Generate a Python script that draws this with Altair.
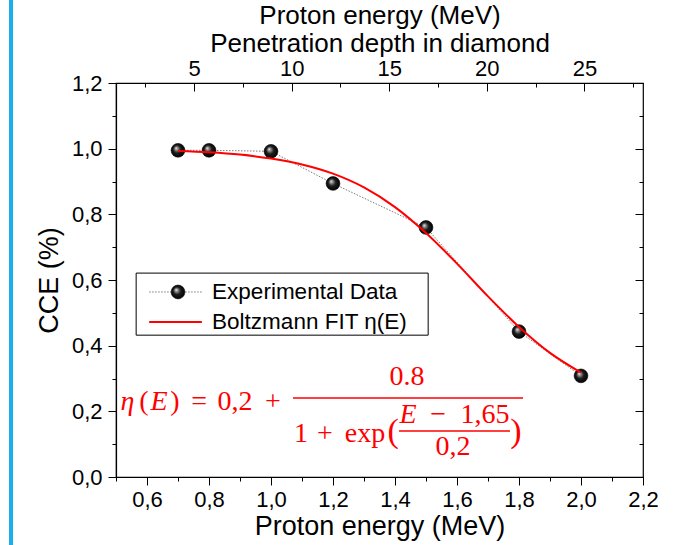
import altair as alt
import pandas as pd

# Measured charge collection efficiency vs. proton energy
energy = [0.7, 0.8, 1.0, 1.2, 1.5, 1.8, 2.0]
cce = [0.995, 0.995, 0.992, 0.894, 0.760, 0.443, 0.308]

# Boltzmann fit eta(E) sampled along the energy range
fit_energy = [0.7, 0.8, 0.9, 1.0, 1.1, 1.2, 1.3, 1.4, 1.5, 1.6, 1.7, 1.8, 1.9, 2.0]
fit_cce = [0.993, 0.989, 0.982, 0.970, 0.952, 0.924, 0.882, 0.822, 0.743,
           0.650, 0.550, 0.457, 0.378, 0.318]

# Tick values
x_major = [0.6, 0.8, 1.0, 1.2, 1.4, 1.6, 1.8, 2.0, 2.2]
x_minor = [0.5, 0.7, 0.9, 1.1, 1.3, 1.5, 1.7, 1.9, 2.1]
y_major = [0.0, 0.2, 0.4, 0.6, 0.8, 1.0, 1.2]
y_minor = [0.1, 0.3, 0.5, 0.7, 0.9, 1.1]
depth_major = [5, 10, 15, 20, 25]
depth_minor = [2.5, 7.5, 12.5, 17.5, 22.5, 27.5]

legend_labels = ["Experimental Data", "Boltzmann FIT η(E)"]

FONT = "Liberation Sans"
MATH = "Liberation Serif"
RED = "#ff0000"
COMMA = "replace(format(datum.value, '.1f'), '.', ',')"


def xs():
    return alt.Scale(domain=[0.5, 2.2], nice=False, zero=False)


def ys():
    return alt.Scale(domain=[0.0, 1.2], nice=False, zero=False)


def ds():
    return alt.Scale(domain=[1, 28], nice=False, zero=False)


def tick_axis(orient, values, size, offset=0):
    return alt.Axis(orient=orient, values=values, tickSize=size, offset=offset,
                    labels=False, domain=False, grid=False, title=None,
                    tickColor="black", tickWidth=1)


bottom_major = alt.Axis(orient="bottom", values=x_major, tickSize=8, labelExpr=COMMA,
                        labelPadding=4, domain=True, domainWidth=1.2, grid=False,
                        title="Proton energy (MeV)", titlePadding=3, labelFlush=False,
                        labelOverlap=False)
left_major = alt.Axis(orient="left", values=y_major, tickSize=8, labelExpr=COMMA,
                      labelPadding=6, domain=True, domainWidth=1.2, grid=False,
                      title="CCE (%)", titlePadding=8, labelFlush=False,
                      labelOverlap=False)
top_major = alt.Axis(orient="top", values=depth_major, tickSize=8, offset=-8,
                     format="d", labelPadding=3, domain=False, grid=False,
                     title=["Proton energy (MeV)", "Penetration depth in diamond"],
                     titleFontSize=26, titleLineHeight=28, titlePadding=1,
                     labelFlush=False, labelOverlap=False)

pts = pd.DataFrame({"E": energy, "CCE": cce})
fit = pd.DataFrame({"E": fit_energy, "CCE": fit_cce})

ball_fill = alt.RadialGradient(
    gradient="radial", x1=0.36, y1=0.34, r1=0, x2=0.5, y2=0.5, r2=0.55,
    stops=[alt.GradientStop(offset=0, color="#f4f4f4"),
           alt.GradientStop(offset=0.2, color="#8c8c8c"),
           alt.GradientStop(offset=0.5, color="#1c1c1c"),
           alt.GradientStop(offset=1, color="#000000")])

dotted = alt.Chart(pts).mark_line(color="#7a7a7a", strokeDash=[1.5, 1.5], strokeWidth=1).encode(
    x=alt.X("E:Q", scale=xs(), axis=bottom_major),
    y=alt.Y("CCE:Q", scale=ys(), axis=left_major))

balls = alt.Chart(pts).mark_circle(size=190, fill=ball_fill, stroke="black",
                                   strokeWidth=0.6, opacity=1).encode(
    x=alt.X("E:Q", scale=xs(), axis=tick_axis("bottom", x_minor, 4)),
    y=alt.Y("CCE:Q", scale=ys(), axis=tick_axis("left", y_minor, 4)))

fitline = alt.Chart(fit).mark_line(color=RED, strokeWidth=2, interpolate="monotone").encode(
    x=alt.X("E:Q", scale=xs(), axis=None),
    y=alt.Y("CCE:Q", scale=ys(), axis=tick_axis("right", y_major, 8, -8)))

right_minor = alt.Chart(pts).mark_point(opacity=0).encode(
    x=alt.X("E:Q", scale=xs(), axis=None),
    y=alt.Y("CCE:Q", scale=ys(), axis=tick_axis("right", y_minor, 4, -4)))

top_labels = alt.Chart(pd.DataFrame({"d": depth_major})).mark_point(opacity=0).encode(
    x=alt.X("d:Q", scale=ds(), axis=top_major))

top_minor = alt.Chart(pd.DataFrame({"d": depth_minor})).mark_point(opacity=0).encode(
    x=alt.X("d:Q", scale=ds(), axis=tick_axis("top", depth_minor, 4, -4)))

# Legend
legend_frame = alt.Chart(pd.DataFrame({"x0": [0.565], "x1": [1.507],
                                       "y0": [0.432], "y1": [0.621]})).mark_rect(
    fill="white", stroke="black", strokeWidth=1).encode(
    x=alt.X("x0:Q", scale=xs(), axis=None), x2="x1:Q",
    y=alt.Y("y0:Q", scale=ys(), axis=None), y2="y1:Q")

legend_rows = pd.DataFrame({"x0": [0.607, 0.607], "x1": [0.777, 0.777],
                            "y": [0.5635, 0.4721], "tx": [0.81, 0.81],
                            "label": legend_labels})

legend_dot_line = alt.Chart(legend_rows.iloc[[0]]).mark_rule(
    color="#7a7a7a", strokeDash=[1.5, 1.5], strokeWidth=1).encode(
    x=alt.X("x0:Q", scale=xs(), axis=None), x2="x1:Q",
    y=alt.Y("y:Q", scale=ys(), axis=None))

legend_red_line = alt.Chart(legend_rows.iloc[[1]]).mark_rule(
    color=RED, strokeWidth=2).encode(
    x=alt.X("x0:Q", scale=xs(), axis=None), x2="x1:Q",
    y=alt.Y("y:Q", scale=ys(), axis=None))

legend_ball = alt.Chart(pd.DataFrame({"E": [0.7], "CCE": [0.5635]})).mark_circle(
    size=190, fill=ball_fill, stroke="black", strokeWidth=0.6, opacity=1).encode(
    x=alt.X("E:Q", scale=xs(), axis=None),
    y=alt.Y("CCE:Q", scale=ys(), axis=None))

legend_text = alt.Chart(legend_rows).mark_text(
    align="left", baseline="middle", font=FONT, fontSize=22.5, color="black").encode(
    x=alt.X("tx:Q", scale=xs(), axis=None),
    y=alt.Y("y:Q", scale=ys(), axis=None),
    text="label:N")

# Fit formula: eta(E) = 0,2 + 0.8 / (1 + exp((E - 1,65) / 0,2))
formula_upright = pd.DataFrame({
    "t": ["(", ")", "=", "0,2", "+", "0.8", "1", "+", "exp", "−", "1,65", "0,2"],
    "E": [0.590, 0.690, 0.768, 0.884, 1.006, 1.439, 1.097, 1.174, 1.303, 1.539, 1.690, 1.587],
    "C": [0.204, 0.204, 0.204, 0.204, 0.204, 0.280, 0.1066, 0.1066, 0.1066,
          0.1645, 0.1645, 0.067]})
formula_italic = pd.DataFrame({"t": ["η", "E", "E"], "E": [0.537, 0.639, 1.442],
                               "C": [0.204, 0.204, 0.1645]})
formula_parens = pd.DataFrame({"t": ["(", ")"], "E": [1.394, 1.790], "C": [0.1066, 0.1066]})
formula_bars = pd.DataFrame({"x0": [1.071, 1.413], "x1": [1.813, 1.771], "y": [0.2406, 0.1401]})


def formula_text(df, size, style="normal"):
    return alt.Chart(df).mark_text(
        align="center", baseline="alphabetic", font=MATH, fontSize=size,
        fontStyle=style, color=RED).encode(
        x=alt.X("E:Q", scale=xs(), axis=None),
        y=alt.Y("C:Q", scale=ys(), axis=None),
        text="t:N")


formula_lines = alt.Chart(formula_bars).mark_rule(color=RED, strokeWidth=1.5).encode(
    x=alt.X("x0:Q", scale=xs(), axis=None), x2="x1:Q",
    y=alt.Y("y:Q", scale=ys(), axis=None))

side_bar = alt.Chart(pd.DataFrame({"k": [0]})).mark_rule(
    color="#1aaeea", strokeWidth=4).encode(
    x=alt.value(-105), y=alt.value(-83), y2=alt.value(462))

chart = alt.layer(
    side_bar, dotted, balls, fitline, right_minor, top_labels, top_minor,
    legend_frame, legend_dot_line, legend_red_line, legend_ball, legend_text,
    formula_text(formula_upright, 28), formula_text(formula_italic, 28, "italic"),
    formula_text(formula_parens, 34), formula_lines,
).resolve_scale(
    x="independent", y="independent"
).properties(
    width=527, height=394,
    padding={"left": 116, "top": 83, "right": 44, "bottom": 68},
    autosize=alt.AutoSizeParams(type="none"),
    background="white",
).configure_view(
    stroke="black", strokeWidth=1.2
).configure_axis(
    labelFont=FONT, titleFont=FONT, labelFontSize=22, titleFontSize=27,
    labelColor="black", titleColor="black", tickColor="black", domainColor="black",
    titleFontWeight="normal", grid=False,
)

chart.save("out.html", embed_options={"renderer": "svg", "actions": False})
